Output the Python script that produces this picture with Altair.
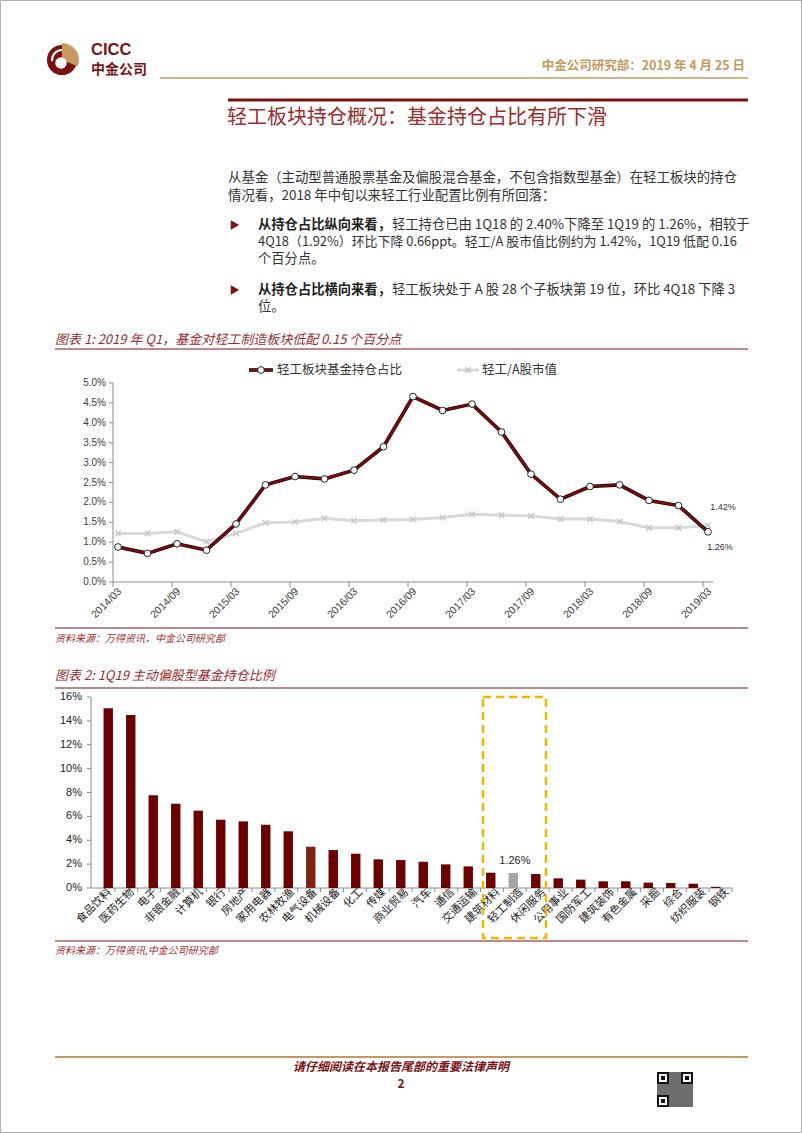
import math
import altair as alt
import pandas as pd

# ---------------- data ----------------
quarters = ["2014/03", "2014/06", "2014/09", "2014/12", "2015/03", "2015/06", "2015/09",
            "2015/12", "2016/03", "2016/06", "2016/09", "2016/12", "2017/03", "2017/06",
            "2017/09", "2017/12", "2018/03", "2018/06", "2018/09", "2018/12", "2019/03"]
fund_share = [0.88, 0.72, 0.96, 0.80, 1.46, 2.44, 2.65, 2.59, 2.81, 3.40, 4.66,
              4.31, 4.47, 3.77, 2.71, 2.08, 2.40, 2.44, 2.05, 1.92, 1.26]
mktcap_share = [1.22, 1.22, 1.26, 1.01, 1.22, 1.49, 1.51, 1.60, 1.54, 1.56, 1.57,
                1.62, 1.70, 1.68, 1.66, 1.58, 1.58, 1.52, 1.36, 1.36, 1.42]
line_xlabels = ["2014/03", "2014/09", "2015/03", "2015/09", "2016/03", "2016/09",
                "2017/03", "2017/09", "2018/03", "2018/09", "2019/03"]
line_yticks = [0.0, 0.5, 1.0, 1.5, 2.0, 2.5, 3.0, 3.5, 4.0, 4.5, 5.0]

sectors = ["食品饮料", "医药生物", "电子", "非银金融", "计算机", "银行", "房地产", "家用电器",
           "农林牧渔", "电气设备", "机械设备", "化工", "传媒", "商业贸易", "汽车", "通信",
           "交通运输", "建筑材料", "轻工制造", "休闲服务", "公用事业", "国防军工", "建筑装饰",
           "有色金属", "采掘", "综合", "纺织服装", "钢铁"]
holdings = [15.05, 14.49, 7.76, 7.06, 6.48, 5.72, 5.58, 5.30, 4.75, 3.46, 3.18, 2.87,
            2.40, 2.34, 2.20, 1.98, 1.81, 1.28, 1.26, 1.17, 0.81, 0.70, 0.56, 0.56,
            0.45, 0.42, 0.36, 0.10]
bar_yticks = [0, 2, 4, 6, 8, 10, 12, 14, 16]

# ---------------- styles ----------------
CJK = "Noto Sans CJK SC"
LAT = "Liberation Sans"
DARK = "#7A1414"
TITLE_RED = "#9B2D2D"
TAN = "#C49A5E"
TEXT = "#333333"
AXIS = "#8C8C8C"
LINE_RED = "#7B0C0C"
BAR = "#6B0000"
XMARK = "M-1,-1L1,1M-1,1L1,-1"

one = pd.DataFrame({"k": [0]})
line_df = pd.DataFrame({"q": quarters, "i": list(range(len(quarters))),
                        "fund": fund_share, "mkt": mktcap_share})
lx_df = pd.DataFrame({"lab": line_xlabels, "i": [quarters.index(l) for l in line_xlabels]})
ly_df = pd.DataFrame({"v": line_yticks})
bar_df = pd.DataFrame({"sector": sectors, "i": list(range(len(sectors))), "v": holdings})
by_df = pd.DataFrame({"v": bar_yticks})

LX = alt.Scale(domain=[0, 20], range=[118, 708], nice=False, zero=False)
LY = alt.Scale(domain=[0, 5], range=[582, 383], nice=False, zero=False)
BX = alt.Scale(domain=[-0.5, 27.5], range=[92, 732], nice=False, zero=False)
BY = alt.Scale(domain=[0, 16], range=[888, 697], nice=False, zero=False)


def T(x, y, s, size=13.3, color=TEXT, weight="normal", style="normal",
      align="left", font=CJK):
    return alt.Chart(one).mark_text(
        align=align, baseline="middle", fontSize=size, font=font,
        fontWeight=weight, fontStyle=style, color=color
    ).encode(x=alt.value(x), y=alt.value(y), text=alt.value(s))


def R(x1, x2, y1, y2, color, w=1.0):
    return alt.Chart(one).mark_rule(color=color, strokeWidth=w).encode(
        x=alt.value(x1), x2=alt.value(x2), y=alt.value(y1), y2=alt.value(y2))


def BOX(x1, x2, y1, y2, color):
    return alt.Chart(one).mark_rect(color=color).encode(
        x=alt.value(x1), x2=alt.value(x2), y=alt.value(y1), y2=alt.value(y2))


layers = []

# page border
layers.append(alt.Chart(one).mark_rect(fillOpacity=0, stroke="#B0B0B0", strokeWidth=1).encode(
    x=alt.value(0.5), x2=alt.value(801.5), y=alt.value(0.5), y2=alt.value(1132.5)))

# ---------------- header ----------------
layers.append(alt.Chart(one).mark_circle(size=math.pi * 17 ** 2, color=DARK, opacity=1).encode(
    x=alt.value(62), y=alt.value(60)))
layers.append(alt.Chart(one).mark_arc(radius=17, radius2=0, theta=0, theta2=1.95, color=TAN).encode(
    x=alt.value(62), y=alt.value(60)))
layers.append(alt.Chart(one).mark_arc(radius=11, radius2=9, theta=4.6, theta2=6.28, color="white").encode(
    x=alt.value(62), y=alt.value(60)))
layers.append(alt.Chart(one).mark_circle(size=math.pi * 6.5 ** 2, color="white", opacity=1).encode(
    x=alt.value(61), y=alt.value(63)))
layers.append(T(91, 50, "CICC", 16.5, DARK, "bold", font=LAT))
layers.append(T(91, 70, "中金公司", 14, DARK, "bold"))
layers.append(R(160, 748, 78, 78, TAN, 1.6))
layers.append(T(745, 66, "中金公司研究部：2019 年 4 月 25 日", 12.5, TAN, "bold", align="right"))
layers.append(R(228, 748, 100, 100, DARK, 3))
layers.append(T(227, 118, "轻工板块持仓概况：基金持仓占比有所下滑", 20, TITLE_RED))

# paragraph
layers.append(T(228, 178, "从基金（主动型普通股票基金及偏股混合基金，不包含指数型基金）在轻工板块的持仓", 13.4))
layers.append(T(228, 196, "情况看，2018 年中旬以来轻工行业配置比例有所回落：", 13.4))

# bullets
for by in (225, 290):
    layers.append(alt.Chart(one).mark_point(shape="triangle-right", filled=True, size=95,
                                            color=DARK, opacity=1).encode(
        x=alt.value(235), y=alt.value(by)))
layers.append(T(258, 225, "从持仓占比纵向来看，", weight="bold", color="#222222"))
layers.append(T(392, 225, "轻工持仓已由 1Q18 的 2.40%下降至 1Q19 的 1.26%，相较于"))
layers.append(T(258, 242, "4Q18（1.92%）环比下降 0.66ppt。轻工/A 股市值比例约为 1.42%，1Q19 低配 0.16", 12.9))
layers.append(T(258, 259, "个百分点。"))
layers.append(T(258, 290, "从持仓占比横向来看，", weight="bold", color="#222222"))
layers.append(T(392, 290, "轻工板块处于 A 股 28 个子板块第 19 位，环比 4Q18 下降 3"))
layers.append(T(258, 307, "位。"))

# ---------------- chart 1 ----------------
layers.append(T(55, 340, "图表 1: 2019 年 Q1，基金对轻工制造板块低配 0.15 个百分点", 13, TITLE_RED, style="italic"))
layers.append(R(55, 748, 349, 349, DARK, 1))

# legend
layers.append(R(249, 273, 370, 370, "#1A0000", 3.6))
layers.append(R(249, 273, 370, 370, LINE_RED, 2.2))
layers.append(alt.Chart(one).mark_point(shape="circle", filled=True, fill="white", stroke="#222222",
                                        strokeWidth=1, size=45, opacity=1).encode(
    x=alt.value(261), y=alt.value(370)))
layers.append(T(277, 370, "轻工板块基金持仓占比", 12.5, TEXT))
layers.append(R(457, 479, 370, 370, "#D9D9D9", 3))
layers.append(alt.Chart(one).mark_point(shape=XMARK, filled=False, size=30, strokeWidth=1.5,
                                        color="#C8C8C8", opacity=1).encode(
    x=alt.value(468), y=alt.value(370)))
layers.append(T(482, 370, "轻工/A股市值", 12.5, TEXT))

# axes
layers.append(R(113, 113, 383, 582, AXIS, 1))
layers.append(R(113, 713, 582, 582, AXIS, 1))
layers.append(alt.Chart(ly_df).mark_rule(color=AXIS, strokeWidth=1).encode(
    y=alt.Y("v:Q", scale=LY, axis=None), x=alt.value(109), x2=alt.value(113)))
layers.append(alt.Chart(ly_df).transform_calculate(lab="format(datum.v, '.1f') + '%'").mark_text(
    align="right", baseline="middle", fontSize=10, font=LAT, color="#404040").encode(
    y=alt.Y("v:Q", scale=LY, axis=None), x=alt.value(106), text="lab:N"))
layers.append(alt.Chart(lx_df).mark_rule(color=AXIS, strokeWidth=1, xOffset=-5).encode(
    x=alt.X("i:Q", scale=LX, axis=None), y=alt.value(582), y2=alt.value(587)))
layers.append(alt.Chart(lx_df).mark_text(
    align="right", baseline="middle", angle=315, fontSize=10.5, font=LAT, color="#404040", dx=3).encode(
    x=alt.X("i:Q", scale=LX, axis=None), y=alt.value(592), text="lab:N"))

# series
layers.append(alt.Chart(line_df).mark_line(color="#D9D9D9", strokeWidth=3).encode(
    x=alt.X("i:Q", scale=LX, axis=None), y=alt.Y("mkt:Q", scale=LY, axis=None)))
layers.append(alt.Chart(line_df).mark_point(shape=XMARK, filled=False, size=30, strokeWidth=1.5,
                                            color="#C8C8C8", opacity=1).encode(
    x=alt.X("i:Q", scale=LX, axis=None), y=alt.Y("mkt:Q", scale=LY, axis=None)))
layers.append(alt.Chart(line_df).mark_line(color="#1A0000", strokeWidth=3.6).encode(
    x=alt.X("i:Q", scale=LX, axis=None), y=alt.Y("fund:Q", scale=LY, axis=None)))
layers.append(alt.Chart(line_df).mark_line(color=LINE_RED, strokeWidth=2.2).encode(
    x=alt.X("i:Q", scale=LX, axis=None), y=alt.Y("fund:Q", scale=LY, axis=None)))
layers.append(alt.Chart(line_df).mark_point(shape="circle", filled=True, fill="white", stroke="#222222",
                                            strokeWidth=1, size=45, opacity=1).encode(
    x=alt.X("i:Q", scale=LX, axis=None), y=alt.Y("fund:Q", scale=LY, axis=None)))
last = line_df.tail(1)
layers.append(alt.Chart(last).transform_calculate(lab="format(datum.mkt, '.2f') + '%'").mark_text(
    fontSize=9, font=LAT, color=TEXT, dx=15, dy=-18).encode(
    x=alt.X("i:Q", scale=LX, axis=None), y=alt.Y("mkt:Q", scale=LY, axis=None), text="lab:N"))
layers.append(alt.Chart(last).transform_calculate(lab="format(datum.fund, '.2f') + '%'").mark_text(
    fontSize=9, font=LAT, color=TEXT, dx=12, dy=15).encode(
    x=alt.X("i:Q", scale=LX, axis=None), y=alt.Y("fund:Q", scale=LY, axis=None), text="lab:N"))

layers.append(R(55, 748, 628, 628, DARK, 1))
layers.append(T(55, 639, "资料来源：万得资讯，中金公司研究部", 10, TITLE_RED, style="italic"))

# ---------------- chart 2 ----------------
layers.append(T(55, 676, "图表 2: 1Q19 主动偏股型基金持仓比例", 13, TITLE_RED, style="italic"))
layers.append(R(55, 748, 688, 688, DARK, 1))

layers.append(R(91, 91, 697, 888, AXIS, 1))
layers.append(R(91, 732, 888, 888, AXIS, 1))
layers.append(alt.Chart(by_df).mark_rule(color=AXIS, strokeWidth=1).encode(
    y=alt.Y("v:Q", scale=BY, axis=None), x=alt.value(87), x2=alt.value(91)))
layers.append(alt.Chart(by_df).transform_calculate(lab="datum.v + '%'").mark_text(
    align="right", baseline="middle", fontSize=11, font=LAT, color="#222222").encode(
    y=alt.Y("v:Q", scale=BY, axis=None), x=alt.value(82), text="lab:N"))
layers.append(alt.Chart(bar_df).mark_rule(color=AXIS, strokeWidth=1, xOffset=11.43).encode(
    x=alt.X("i:Q", scale=BX, axis=None), y=alt.value(888), y2=alt.value(892)))

bar_color = (alt.when(alt.datum.sector == "轻工制造").then(alt.value("#A6A6A6"))
             .when(alt.datum.sector == "电气设备").then(alt.value("#7E2410"))
             .otherwise(alt.value(BAR)))
layers.append(alt.Chart(bar_df).mark_bar(width=9.4).encode(
    x=alt.X("i:Q", scale=BX, axis=None), y=alt.Y("v:Q", scale=BY, axis=None), color=bar_color))
layers.append(alt.Chart(bar_df).mark_text(
    align="right", baseline="middle", angle=315, fontSize=11, font=CJK, color="#222222", dx=9).encode(
    x=alt.X("i:Q", scale=BX, axis=None), y=alt.value(897), text="sector:N"))
layers.append(alt.Chart(bar_df).transform_filter(alt.datum.sector == "轻工制造").transform_calculate(
    lab="format(datum.v, '.2f') + '%'").mark_text(
    fontSize=11, font=LAT, color="#222222", dy=-12).encode(
    x=alt.X("i:Q", scale=BX, axis=None), y=alt.Y("v:Q", scale=BY, axis=None), text="lab:N"))

# highlight box
layers.append(alt.Chart(one).mark_rect(fillOpacity=0, stroke="#F2B705", strokeWidth=2.5,
                                       strokeDash=[8, 5]).encode(
    x=alt.value(483), x2=alt.value(546), y=alt.value(697), y2=alt.value(938)))

layers.append(R(55, 748, 941, 941, DARK, 1))
layers.append(T(55, 951, "资料来源：万得资讯,中金公司研究部", 10, TITLE_RED, style="italic"))

# ---------------- footer ----------------
layers.append(R(55, 748, 1057, 1057, TAN, 2))
layers.append(T(401, 1067, "请仔细阅读在本报告尾部的重要法律声明", 12, DARK, "bold", "italic", align="center"))
layers.append(T(401, 1084, "2", 12, DARK, "bold", align="center"))

# QR-like mark
layers.append(BOX(657, 693, 1072, 1107, "#6E6E6E"))
for (qx, qy) in ((657, 1072), (681, 1072), (657, 1095)):
    layers.append(BOX(qx, qx + 12, qy, qy + 12, "#111111"))
    layers.append(BOX(qx + 2, qx + 10, qy + 2, qy + 10, "white"))
    layers.append(BOX(qx + 4, qx + 8, qy + 4, qy + 8, "#111111"))

chart = alt.layer(*layers).properties(
    width=802, height=1133, padding=0, background="white",
    autosize=alt.AutoSizeParams(type="none"),
).resolve_scale(x="independent", y="independent").configure_view(strokeWidth=0)

chart.save("out.html", embed_options={"renderer": "svg", "actions": False})
